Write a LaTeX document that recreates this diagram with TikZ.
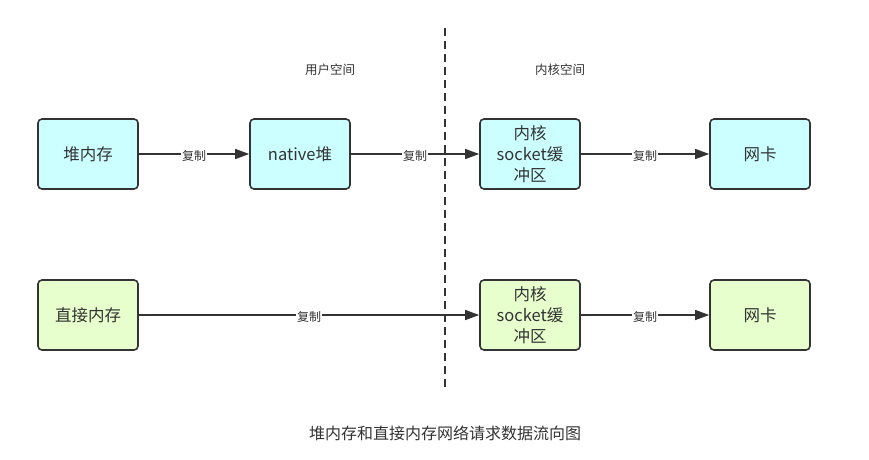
\documentclass[tikz,border=0pt]{standalone}
\usepackage{fontspec}
\setmainfont{Noto Sans CJK SC}
\usetikzlibrary{arrows.meta}
\definecolor{edgec}{HTML}{333333}
\definecolor{cyanf}{HTML}{CCFFFF}
\definecolor{greenf}{HTML}{E6FFCC}
\begin{document}
\begin{tikzpicture}[x=1pt,y=-1pt,
  box/.style={draw=edgec, line width=1.6pt, rounded corners=4pt, minimum width=100pt, minimum height=70pt, inner sep=0pt, align=center, font=\fontsize{16.5}{21}\selectfont, text=edgec},
  cbox/.style={box, fill=cyanf},
  gbox/.style={box, fill=greenf},
  conn/.style={draw=edgec, line width=1.3pt, -{Triangle[length=14pt,width=10pt]}},
  elabel/.style={fill=white, inner sep=1pt, yshift=-2pt, font=\fontsize{12}{14}\selectfont, text=edgec},
  tlabel/.style={font=\fontsize{12.5}{14}\selectfont, text=edgec},
]
\useasboundingbox (0,0) rectangle (869,459);
\node[cbox] (heap) at (88,154) {堆内存};
\node[cbox] (native) at (300,154) {native堆};
\node[cbox] (ksock1) at (530,154) {内核\\socket缓\\冲区};
\node[cbox] (nic1) at (760,154) {网卡};
\node[gbox] (direct) at (88,315) {直接内存};
\node[gbox] (ksock2) at (530,315) {内核\\socket缓\\冲区};
\node[gbox] (nic2) at (760,315) {网卡};
\coordinate (dtop) at (445,28);
\coordinate (dbot) at (445,387);
\draw[edgec, line width=1.8pt, dash pattern=on 8pt off 5pt] (dtop) -- (dbot);
\draw[conn] (heap) -- node[elabel] {复制} (native);
\draw[conn] (native) -- node[elabel] {复制} (ksock1);
\draw[conn] (ksock1) -- node[elabel] {复制} (nic1);
\draw[conn] (direct) -- node[elabel] {复制} (ksock2);
\draw[conn] (ksock2) -- node[elabel] {复制} (nic2);
\node[tlabel] (user) at (330,70) {用户空间};
\node[tlabel] (kern) at (560,70) {内核空间};
\node[font=\fontsize{16}{18}\selectfont, text=edgec] (cap) at (445,433) {堆内存和直接内存网络请求数据流向图};
\end{tikzpicture}
\end{document}
